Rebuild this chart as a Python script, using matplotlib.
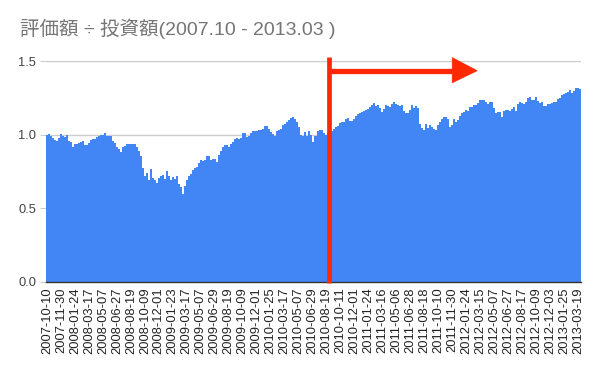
import matplotlib
matplotlib.use("Agg")
import matplotlib.pyplot as plt
from matplotlib.patches import Polygon

# ---- data (weekly-ish samples) ----
ratio = [
    1.0, 1.003, 0.995, 0.98, 0.965, 0.955, 0.98, 1.005, 0.99, 0.985,
    1.0, 0.955, 0.95, 0.915, 0.94, 0.935, 0.945, 0.95, 0.955, 0.93,
    0.93, 0.945, 0.965, 0.97, 0.97, 0.985, 0.99, 1.0, 1.0, 1.01,
    0.99, 0.995, 0.99, 0.96, 0.945, 0.915, 0.905, 0.88, 0.915, 0.925,
    0.94, 0.94, 0.935, 0.94, 0.935, 0.915, 0.89, 0.855, 0.775, 0.72,
    0.74, 0.69, 0.765, 0.705, 0.693, 0.67, 0.705, 0.72, 0.727, 0.7,
    0.755, 0.72, 0.69, 0.71, 0.7, 0.72, 0.665, 0.643, 0.6, 0.652,
    0.69, 0.72, 0.735, 0.758, 0.773, 0.78, 0.81, 0.83, 0.82, 0.83,
    0.857, 0.857, 0.83, 0.832, 0.832, 0.818, 0.865, 0.89, 0.92, 0.93,
    0.93, 0.92, 0.935, 0.95, 0.97, 0.98, 0.97, 0.98, 1.014, 1.01,
    0.985, 0.995, 1.015, 1.025, 1.025, 1.027, 1.03, 1.034, 1.04, 1.061,
    1.061, 1.04, 1.02, 1.007, 0.995, 1.025, 1.03, 1.04, 1.068, 1.075,
    1.085, 1.1, 1.115, 1.12, 1.107, 1.09, 1.05, 1.0, 0.995, 1.02,
    0.99, 1.027, 1.0, 0.948, 0.99, 0.995, 1.028, 1.034, 1.03, 1.01,
    1.0, 1.01, 1.02, 1.027, 1.041, 1.05, 1.06, 1.078, 1.088, 1.09,
    1.105, 1.115, 1.097, 1.097, 1.107, 1.128, 1.14, 1.15, 1.155, 1.159,
    1.17, 1.178, 1.19, 1.203, 1.216, 1.198, 1.2, 1.185, 1.158, 1.175,
    1.2, 1.198, 1.189, 1.21, 1.223, 1.21, 1.2, 1.195, 1.204, 1.16,
    1.15, 1.148, 1.166, 1.2, 1.18, 1.195, 1.182, 1.07, 1.045, 1.03,
    1.072, 1.045, 1.065, 1.05, 1.039, 1.03, 1.068, 1.088, 1.107, 1.12,
    1.12, 1.11, 1.05, 1.065, 1.108, 1.09, 1.1, 1.13, 1.145, 1.156,
    1.17, 1.165, 1.189, 1.189, 1.205, 1.203, 1.215, 1.235, 1.239, 1.239,
    1.225, 1.21, 1.225, 1.22, 1.18, 1.148, 1.152, 1.152, 1.12, 1.159,
    1.168, 1.17, 1.165, 1.175, 1.189, 1.165, 1.208, 1.22, 1.216, 1.21,
    1.225, 1.25, 1.258, 1.236, 1.239, 1.255, 1.232, 1.218, 1.222, 1.193,
    1.195, 1.209, 1.209, 1.216, 1.225, 1.226, 1.245, 1.25, 1.27, 1.28,
    1.287, 1.288, 1.302, 1.285, 1.3, 1.315, 1.318, 1.311,
]

tick_labels = [
    "2007-10-10", "2007-11-30",
    "2008-01-24", "2008-03-17", "2008-05-07", "2008-06-27", "2008-08-19", "2008-10-09", "2008-12-01",
    "2009-01-23", "2009-03-17", "2009-05-07", "2009-06-29", "2009-08-19", "2009-10-09", "2009-12-01",
    "2010-01-25", "2010-03-17", "2010-05-07", "2010-06-29", "2010-08-19", "2010-10-11", "2010-12-01",
    "2011-01-24", "2011-03-16", "2011-05-06", "2011-06-28", "2011-08-18", "2011-10-10", "2011-11-30",
    "2012-01-24", "2012-03-15", "2012-05-07", "2012-06-27", "2012-08-17", "2012-10-09", "2012-12-03",
    "2013-01-25", "2013-03-19",
]
label_step = 7           # one label every 7 samples
marker_index = 141.5     # position of the red vertical marker
arrow_tip_index = 215.5
arrow_level = 1.436

y_ticks = [0.0, 0.5, 1.0, 1.5]
title = "評価額 ÷ 投資額(2007.10 - 2013.03 )"

# ---- figure ----
plt.rcParams['font.family'] = ['Liberation Sans', 'Noto Sans CJK JP', 'DejaVu Sans']
fig = plt.figure(figsize=(6.0, 3.71), dpi=100)
W, H = 600, 371
ax = fig.add_axes([46 / W, 1 - 281.7 / H, (581 - 46) / W, (281.7 - 61.3) / H])

n = len(ratio)
xs = list(range(n))
ax.bar(xs, ratio, width=1.0, color="#4285F4", linewidth=0, zorder=2)

ax.set_xlim(-0.5, n - 0.5)
ax.set_ylim(0, 1.5)
ax.set_yticks(y_ticks)
ax.set_yticklabels([f"{v:.1f}" for v in y_ticks])
ax.grid(axis="y", color="#cccccc", linewidth=1.0, zorder=0)
ax.set_axisbelow(True)

tick_pos = [i * label_step for i in range(len(tick_labels))]
ax.set_xticks(tick_pos)
ax.set_xticklabels(tick_labels, rotation=90, fontsize=9.3, color="#222222")
ax.tick_params(axis="x", length=0, pad=4)
ax.tick_params(axis="y", length=4, color="#cccccc", labelsize=9.3, labelcolor="#444444", pad=3)

for s in ["top", "right", "left"]:
    ax.spines[s].set_visible(False)
ax.spines["bottom"].set_color("#333333")
ax.spines["bottom"].set_linewidth(1.0)
ax.spines["bottom"].set_zorder(3)

# ---- red annotation ----
red = "#FF2800"
ax.plot([marker_index, marker_index], [-0.009, 1.53], color=red, linewidth=3.4,
        solid_capstyle="butt", clip_on=False, zorder=5)
ax.plot([marker_index, 203.0], [arrow_level, arrow_level], color=red, linewidth=3.8,
        solid_capstyle="butt", clip_on=False, zorder=5)
tri = Polygon([[203.0, 1.525], [203.0, 1.354], [arrow_tip_index, arrow_level]],
              closed=True, facecolor=red, edgecolor=red, linewidth=0.5,
              clip_on=False, zorder=5)
ax.add_patch(tri)

fig.text(20.5 / W, 1 - 28.5 / H, title, fontsize=14, color="#757575",
         ha="left", va="center")

fig.savefig("out.png", dpi=100)
